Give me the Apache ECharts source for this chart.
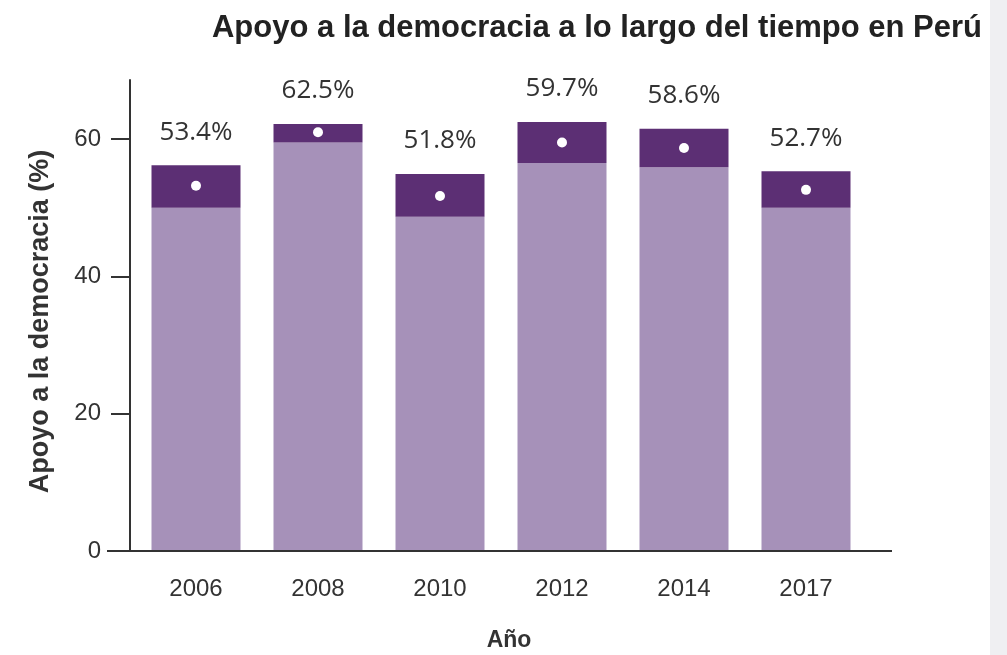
<!DOCTYPE html>
<html>
<head>
<meta charset="utf-8">
<script src="https://cdn.jsdelivr.net/npm/echarts@6/dist/echarts.min.js"></script>
<style>
  html, body { margin: 0; padding: 0; background: #efeff2; }
  #main { width: 990px; height: 655px; background: #fff; }
</style>
</head>
<body>
<div id="main"></div>
<script>
// datos
var years = ['2006', '2008', '2010', '2012', '2014', '2017'];
var lower = [50.0, 59.5, 48.7, 56.5, 55.9, 50.0];   // limite inferior (parte clara)
var upper = [56.2, 62.2, 54.9, 62.5, 61.5, 55.3];   // limite superior (parte oscura)
var puntos = [53.2, 61.0, 51.7, 59.5, 58.7, 52.6];  // punto blanco
var etiquetas = ['53.4%', '62.5%', '51.8%', '59.7%', '58.6%', '52.7%'];
var yTicks = [0, 20, 40, 60];

var tickFont = '"Liberation Sans", Arial, sans-serif';
var colorClaro = '#a691b9';
var colorOscuro = '#5c2f74';
var ejeColor = '#333333';

var rango = [];
for (var i = 0; i < years.length; i++) {
  rango.push(+(upper[i] - lower[i]).toFixed(2));
}

var myChart = echarts.init(document.getElementById('main'));

option = {
  animation: false,
  title: {
    text: 'Apoyo a la democracia a lo largo del tiempo en Perú',
    left: 592,
    top: 8,
    textAlign: 'center',
    textStyle: {
      fontFamily: 'Liberation Sans, Arial, sans-serif',
      fontWeight: 'bold',
      fontSize: 31,
      color: '#222'
    }
  },
  grid: {
    left: 135,
    right: 123,
    top: 80,
    bottom: 104,
    containLabel: false,
    outerBoundsMode: 'none'
  },
  xAxis: {
    type: 'category',
    data: years,
    name: 'Año',
    nameLocation: 'middle',
    nameGap: 78,
    nameTextStyle: {
      fontFamily: 'Liberation Sans, Arial, sans-serif',
      fontWeight: 'bold',
      fontSize: 23,
      color: '#333',
      padding: [0, 0, 0, 16]
    },
    axisLine: { show: false },
    axisTick: {
      alignWithLabel: true,
      length: 17,
      lineStyle: { color: ejeColor, width: 2 }
    },
    axisLabel: {
      margin: 26,
      fontFamily: tickFont,
      fontSize: 24,
      color: '#333'
    }
  },
  yAxis: {
    type: 'value',
    min: 0,
    max: 68.6,
    interval: 20,
    offset: 5,
    name: 'Apoyo a la democracia (%)',
    nameLocation: 'middle',
    nameGap: 76,
    nameTextStyle: {
      fontFamily: 'Liberation Sans, Arial, sans-serif',
      fontWeight: 'bold',
      fontSize: 27,
      color: '#333',
      padding: [0, 12, 0, 0]
    },
    splitLine: { show: false },
    axisLine: {
      show: true,
      lineStyle: { color: ejeColor, width: 2 }
    },
    axisTick: {
      show: true,
      length: 19,
      customValues: yTicks,
      lineStyle: { color: ejeColor, width: 2 }
    },
    axisLabel: {
      margin: 29,
      customValues: yTicks,
      fontFamily: tickFont,
      fontSize: 24,
      color: '#333'
    }
  },
  series: [{
    type: 'bar',
    stack: 'ic',
    data: lower,
    barWidth: 89,
    itemStyle: { color: colorClaro }
  }, {
    type: 'bar',
    stack: 'ic',
    data: rango,
    barWidth: 89,
    itemStyle: { color: colorOscuro },
    label: {
      show: true,
      position: 'top',
      distance: 20,
      fontFamily: '"Open Sans", "Noto Sans", sans-serif',
      fontSize: 26,
      color: '#333',
      formatter: function(p) {
        return etiquetas[p.dataIndex];
      }
    }
  }, {
    type: 'scatter',
    data: puntos,
    symbol: 'circle',
    symbolSize: 10,
    z: 5,
    itemStyle: { color: '#ffffff', opacity: 1 }
  }]
};

myChart.setOption(option);

// linea del eje x, mas larga que la rejilla
var y0 = myChart.convertToPixel({ yAxisIndex: 0 }, 0);
myChart.setOption({
  graphic: [{
    type: 'line',
    shape: { x1: 107, y1: y0, x2: 892, y2: y0 },
    style: { stroke: ejeColor, lineWidth: 2 },
    z: 10
  }]
});
</script>
</body>
</html>
